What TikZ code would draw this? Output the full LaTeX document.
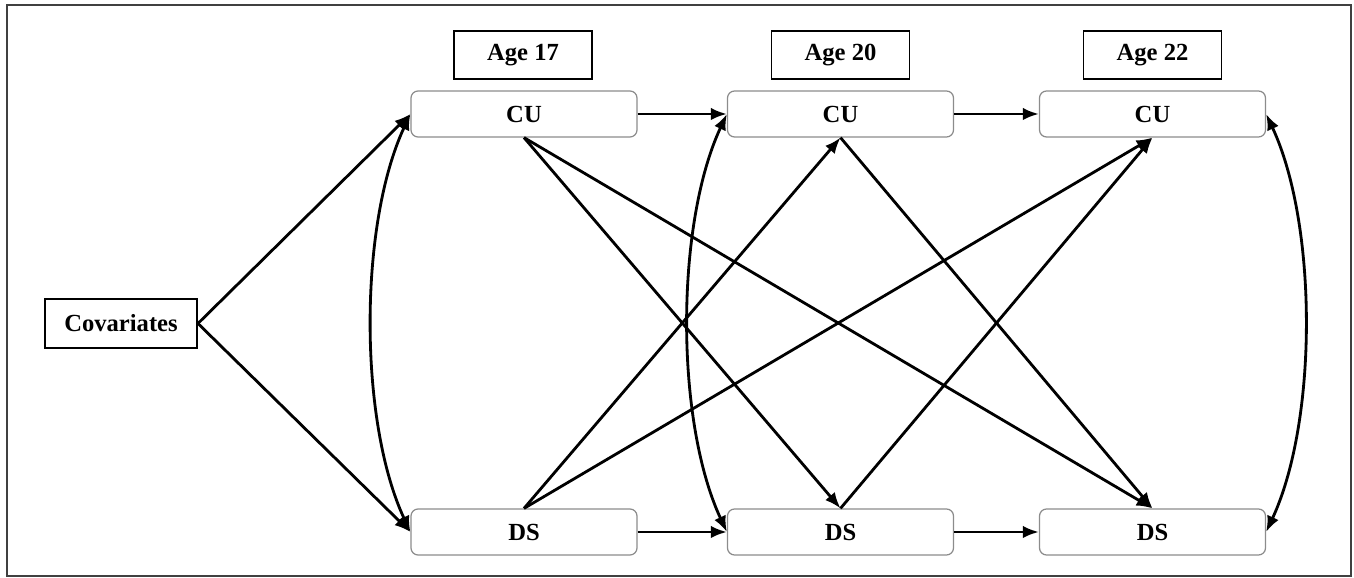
\documentclass[tikz,border=0pt]{standalone}
\usepackage{fontspec}
\setmainfont{Liberation Serif}
\usetikzlibrary{arrows.meta}
\begin{document}
\begin{tikzpicture}\tikzstyle{every node}=[font=\fontsize{14}{16}\selectfont\bfseries]
\tikzstyle{var}=[draw=black!45, line width=0.7pt, rounded corners=4pt, fill=white, minimum width=4.52cm, minimum height=0.92cm, inner sep=0pt]
\tikzstyle{agebox}=[draw, line width=1.1pt, minimum width=2.76cm, minimum height=0.96cm, inner sep=0pt]
\tikzstyle{effect}=[-{Latex[length=3.2mm,width=2.5mm]}, line width=1.6pt]
\tikzstyle{corr}=[{Latex[length=3.2mm,width=2.5mm]}-{Latex[length=3.2mm,width=2.5mm]}, line width=1.6pt]
\useasboundingbox (0,0) rectangle (27.08,11.56);
% frame
  \draw[black!75, line width=1.5pt] (0.14,0.04) rectangle (27.02,11.46);
% covariates
  \node[agebox, minimum width=3.04cm, minimum height=0.98cm] (cov) at (2.42,5.09) {Covariates};
% age 17
  \node[agebox] (age17) at (10.46,10.46) {Age 17};
  \node[var] (cu17) at (10.48,9.28) {CU};
  \node[var] (ds17) at (10.48,0.92) {DS};
% age 20
  \node[agebox] (age20) at (16.81,10.46) {Age 20};
  \node[var] (cu20) at (16.81,9.28) {CU};
  \node[var] (ds20) at (16.81,0.92) {DS};
% age 22
  \node[agebox] (age22) at (23.05,10.46) {Age 22};
  \node[var] (cu22) at (23.05,9.28) {CU};
  \node[var] (ds22) at (23.05,0.92) {DS};
% covariates -> age 17
  \draw[effect] (cov.east) -- (cu17.west);
  \draw[effect] (cov.east) -- (ds17.west);
% stability
  \draw[effect] (cu17) -- (cu20);
  \draw[effect] (cu20) -- (cu22);
  \draw[effect] (ds17) -- (ds20);
  \draw[effect] (ds20) -- (ds22);
% cross-lagged
  \draw[effect] (cu17.south) -- (ds20.north);
  \draw[effect] (cu17.south) -- (ds22.north);
  \draw[effect] (ds17.north) -- (cu20.south);
  \draw[effect] (ds17.north) -- (cu22.south);
  \draw[effect] (cu20.south) -- (ds22.north);
  \draw[effect] (ds20.north) -- (cu22.south);
% within-time covariances
  \draw[corr] (cu17.west) to[bend right=25, looseness=0.75] (ds17.west);
  \draw[corr] (cu20.west) to[bend right=25, looseness=0.75] (ds20.west);
  \draw[corr] (cu22.east) to[bend left=25, looseness=0.75] (ds22.east);
\end{tikzpicture}
\end{document}
